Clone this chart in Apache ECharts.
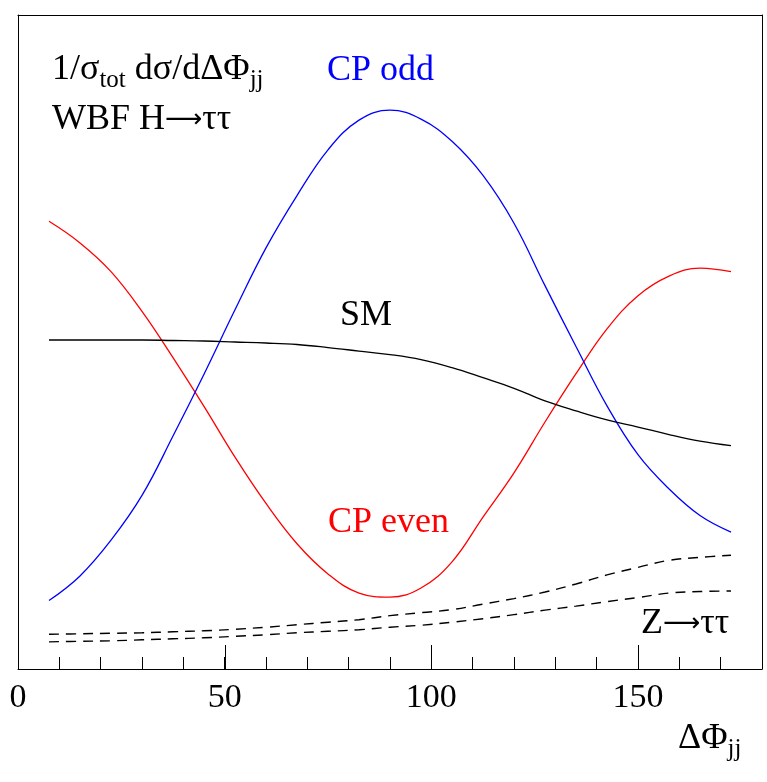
<!DOCTYPE html>
<html>
<head>
<meta charset="utf-8">
<title>WBF H→ττ ΔΦjj distribution</title>
<script src="https://cdn.jsdelivr.net/npm/echarts@6/dist/echarts.min.js"></script>
<style>
  html, body { margin: 0; padding: 0; background: #fff; }
  #chart { width: 767px; height: 782px; }
</style>
</head>
<body>
<div id="chart"></div>
<script>
// Azimuthal angle between the tagging jets (degrees)
const dphi = [7.5, 15, 22.5, 30, 37.5, 45, 52.5, 60, 67.5, 75, 82.5, 90,
              97.5, 105, 112.5, 120, 127.5, 135, 142.5, 150, 157.5, 165, 172.5];

// Normalised distributions 1/σ dσ/dΔΦ (×10⁻³ per degree)
const cpEven = [8.90, 8.47, 7.90, 7.11, 6.19, 5.22, 4.21, 3.29, 2.49, 1.89, 1.51, 1.43,
                1.61, 2.13, 3.02, 3.90, 4.91, 5.87, 6.76, 7.42, 7.81, 7.97, 7.90];
const cpOdd  = [1.36, 1.85, 2.56, 3.45, 4.63, 5.86, 7.14, 8.37, 9.41, 10.32, 10.91, 11.11,
                10.93, 10.49, 9.81, 8.86, 7.62, 6.41, 5.23, 4.26, 3.58, 3.05, 2.72];
const sm     = [6.54, 6.54, 6.54, 6.54, 6.53, 6.52, 6.50, 6.48, 6.45, 6.39, 6.32, 6.25,
                6.15, 5.99, 5.79, 5.58, 5.33, 5.13, 4.95, 4.81, 4.66, 4.53, 4.44];
const zTauTauA = [0.69, 0.70, 0.71, 0.72, 0.74, 0.76, 0.79, 0.83, 0.88, 0.93, 0.98, 1.06,
                  1.12, 1.18, 1.29, 1.40, 1.53, 1.69, 1.87, 2.02, 2.16, 2.22, 2.26];
const zTauTauB = [0.54, 0.55, 0.56, 0.58, 0.60, 0.62, 0.65, 0.68, 0.72, 0.75, 0.78, 0.83,
                  0.87, 0.93, 1.00, 1.08, 1.17, 1.25, 1.34, 1.42, 1.51, 1.54, 1.55];

// Axis tick labels (these positions also carry the long ticks)
const xTickLabels = [0, 50, 100, 150];

const pairs = ys => dphi.map((x, i) => [x, ys[i]]);
const FONT = '"Liberation Serif", "DejaVu Serif", serif';
const ARROW_FONT = '"DejaVu Sans", sans-serif';
const MAJOR_TICK_LEN = 24;

function curve(name, ys, color, dashed) {
  return {
    name: name,
    type: 'line',
    data: pairs(ys),
    xAxisIndex: 0,
    yAxisIndex: 0,
    showSymbol: false,
    smooth: 0.4,
    silent: true,
    lineStyle: { color: color, width: dashed ? 1.4 : 1.3, type: dashed ? [10, 7] : 'solid' },
    z: 3
  };
}

const textRich = {
  m: { fontFamily: FONT, fontSize: 36, lineHeight: 46, fill: '#000', verticalAlign: 'middle' },
  s: { fontFamily: FONT, fontSize: 25, lineHeight: 20, fill: '#000', verticalAlign: 'bottom' },
  a: { fontFamily: ARROW_FONT, fontSize: 26, lineHeight: 46, fill: '#000', verticalAlign: 'middle' }
};

const frameLine = { show: true, onZero: false, lineStyle: { color: '#000', width: 1 } };
const hidden = { show: false };

const chart = echarts.init(document.getElementById('chart'), null, { renderer: 'canvas' });

chart.setOption({
  backgroundColor: '#fff',
  animation: false,
  grid: { left: 18, right: 5, top: 15, bottom: 113 },
  xAxis: [
    {
      type: 'value', min: 0, max: 180, interval: 10, position: 'bottom',
      axisLine: frameLine,
      axisTick: { show: true, inside: true, length: 12, lineStyle: { color: '#000', width: 1 } },
      axisLabel: {
        show: true, margin: 12, color: '#000', fontFamily: FONT, fontSize: 34,
        showMaxLabel: false,
        formatter: v => (xTickLabels.indexOf(v) >= 0 ? String(v) : '')
      },
      splitLine: hidden
    },
    {
      type: 'value', min: 0, max: 180, position: 'top',
      axisLine: frameLine, axisTick: hidden, axisLabel: hidden, splitLine: hidden
    }
  ],
  yAxis: [
    {
      type: 'value', min: 0, max: 13, position: 'left',
      axisLine: frameLine, axisTick: hidden, axisLabel: hidden, splitLine: hidden
    },
    {
      type: 'value', min: 0, max: 13, position: 'right',
      axisLine: frameLine, axisTick: hidden, axisLabel: hidden, splitLine: hidden
    }
  ],
  series: [
    curve('CP even', cpEven, '#ff0000', false),
    curve('CP odd', cpOdd, '#0000ff', false),
    curve('SM', sm, '#000000', false),
    curve('Z→ττ (a)', zTauTauA, '#000000', true),
    curve('Z→ττ (b)', zTauTauB, '#000000', true),
    {
      // long ticks at the labelled positions of the ΔΦ axis
      name: 'major ticks',
      type: 'custom',
      silent: true,
      xAxisIndex: 0,
      yAxisIndex: 0,
      data: xTickLabels.map(v => [v]),
      encode: { x: 0 },
      renderItem: function (params, api) {
        const p = api.coord([api.value(0), 0]);
        const x = Math.round(p[0]) + 0.5;
        return {
          type: 'line',
          shape: { x1: x, y1: p[1], x2: x, y2: p[1] - MAJOR_TICK_LEN },
          style: { stroke: '#000', lineWidth: 1 }
        };
      },
      z: 4
    }
  ],
  graphic: [
    {
      type: 'text', left: 52, top: 52,
      style: { text: '{m|1/σ}{s|tot}{m| dσ/dΔΦ}{s|jj}', rich: textRich }
    },
    {
      type: 'text', left: 52, top: 102,
      style: { text: '{m|WBF H}{a|⟶}{m|ττ}', rich: textRich }
    },
    {
      type: 'text', left: 327, top: 53,
      style: { text: 'CP odd', fontFamily: FONT, fontSize: 36, fill: '#0000ff' }
    },
    {
      type: 'text', left: 340, top: 298,
      style: { text: 'SM', fontFamily: FONT, fontSize: 36, fill: '#000' }
    },
    {
      type: 'text', left: 328, top: 505,
      style: { text: 'CP even', fontFamily: FONT, fontSize: 36, fill: '#ff0000' }
    },
    {
      type: 'text', left: 641, top: 606,
      style: { text: '{m|Z}{a|⟶}{m|ττ}', rich: textRich }
    },
    {
      type: 'text', left: 678, top: 721,
      style: { text: '{m|ΔΦ}{s|jj}', rich: textRich }
    }
  ]
});
</script>
</body>
</html>
